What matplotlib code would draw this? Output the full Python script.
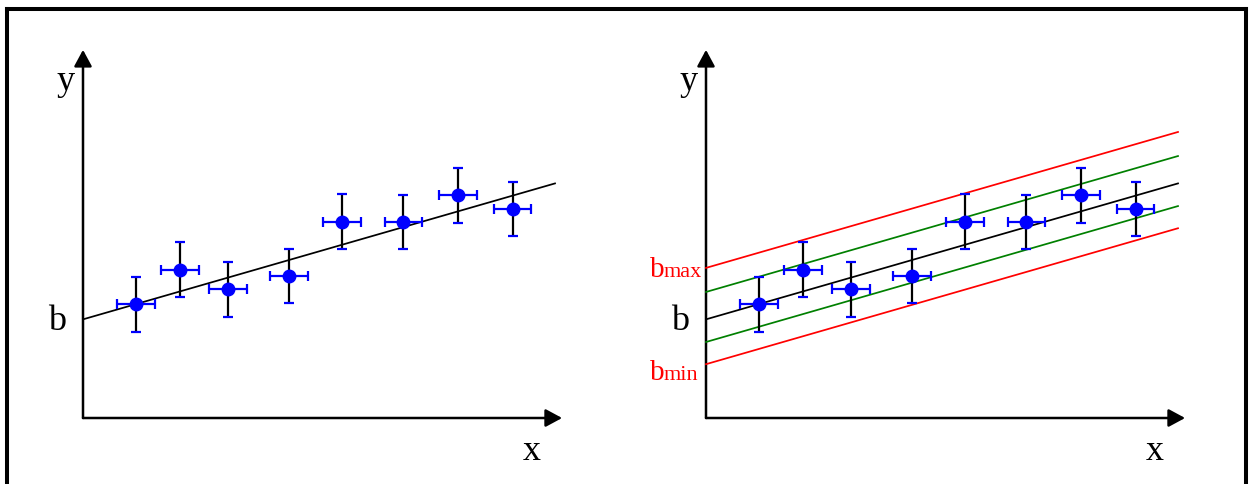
import matplotlib
matplotlib.use('Agg')
import matplotlib.pyplot as plt
from matplotlib.lines import Line2D
import numpy as np

# ── Data (arbitrary units) ───────────────────────────────────────────────────
x_vals = [1.12, 2.06, 3.08, 4.37, 5.48, 6.79, 7.94, 9.10]
y_vals = [2.41, 3.14, 2.73, 3.01, 4.16, 4.15, 4.72, 4.43]
x_err = 0.40
y_err = 0.58

slope = 0.288
b_fit = 2.09
b_band = [3.18, 2.67, 1.61, 1.14]          # b_max, upper, lower, b_min
band_colors = ['red', 'green', 'green', 'red']
x_line_end = 10.0

x_axis_end = 10.15
y_axis_end = 7.80

plt.rcParams['font.family'] = ['Liberation Serif', 'DejaVu Serif']

W, H = 1249, 484
fig = plt.figure(figsize=(W / 100, H / 100), dpi=100)
fig.patch.set_facecolor('white')

# px per unit = 47.2, origin at (83, 418) px inside each 624 px panel
S = 47.2
XLIM = (-83 / S, (624 - 83) / S)
YLIM = (-(H - 418) / S, 418 / S)


def panel(left_px):
    ax = fig.add_axes([left_px / W, 0, 624 / W, 1])
    ax.set_xlim(*XLIM)
    ax.set_ylim(*YLIM)
    ax.axis('off')
    return ax


def axes_arrows(ax):
    ap = dict(arrowstyle='-|>,head_length=0.5,head_width=0.27',
              color='black', lw=1.8, mutation_scale=20,
              shrinkA=0, shrinkB=0)
    ax.annotate('', xy=(0, y_axis_end), xytext=(0, 0), arrowprops=ap)
    ax.annotate('', xy=(x_axis_end, 0), xytext=(0, 0), arrowprops=ap)
    ax.text(-0.37, 6.95, 'y', fontsize=26, ha='center', va='baseline')
    ax.text(9.5, -0.89, 'x', fontsize=26, ha='center', va='baseline')
    ax.text(-0.54, 1.86, 'b', fontsize=26, ha='center', va='baseline')


def points(ax):
    xs = np.array(x_vals)
    ys = np.array(y_vals)
    ax.errorbar(xs, ys, xerr=x_err, fmt='none', ecolor='blue',
                elinewidth=1.6, capsize=3.7, capthick=1.6, zorder=4)
    ax.errorbar(xs, ys, yerr=y_err, fmt='none', ecolor='black',
                elinewidth=1.6, capsize=0, zorder=5)
    ax.plot(xs, ys + y_err, ls='none', marker='_', ms=7.5, mew=1.6,
            color='blue', zorder=5)
    ax.plot(xs, ys - y_err, ls='none', marker='_', ms=7.5, mew=1.6,
            color='blue', zorder=5)
    ax.plot(xs, ys, ls='none', marker='o', ms=9, color='blue',
            mec='blue', zorder=6)


def fit_line(ax, b, color):
    xl = np.array([0, x_line_end])
    ax.plot(xl, b + slope * xl, color=color, lw=1.25, zorder=3)


# ── Left panel ───────────────────────────────────────────────────────────────
ax1 = panel(0)
axes_arrows(ax1)
fit_line(ax1, b_fit, 'black')
points(ax1)

# ── Right panel ──────────────────────────────────────────────────────────────
ax2 = panel(623)
axes_arrows(ax2)
for b, c in zip(b_band, band_colors):
    fit_line(ax2, b, c)
fit_line(ax2, b_fit, 'black')
points(ax2)

ax2.text(-1.19, 2.99, 'b', fontsize=21, color='red', ha='left', va='baseline')
ax2.text(-0.91, 2.99, 'max', fontsize=16, color='red', ha='left', va='baseline')
ax2.text(-1.19, 0.81, 'b', fontsize=21, color='red', ha='left', va='baseline')
ax2.text(-0.91, 0.81, 'min', fontsize=16, color='red', ha='left', va='baseline')

# ── Outer frame ──────────────────────────────────────────────────────────────
fx = lambda px: px / W
fy = lambda py: 1 - py / H
fr = dict(color='black', lw=2.9, solid_capstyle='projecting')
fig.add_artist(Line2D([fx(7), fx(7)], [fy(9), 0], **fr))
fig.add_artist(Line2D([fx(7), fx(1246)], [fy(9), fy(9)], **fr))
fig.add_artist(Line2D([fx(1246), fx(1246)], [fy(9), 0], **fr))

fig.savefig('out.png', dpi=100, facecolor='white')
plt.close(fig)
